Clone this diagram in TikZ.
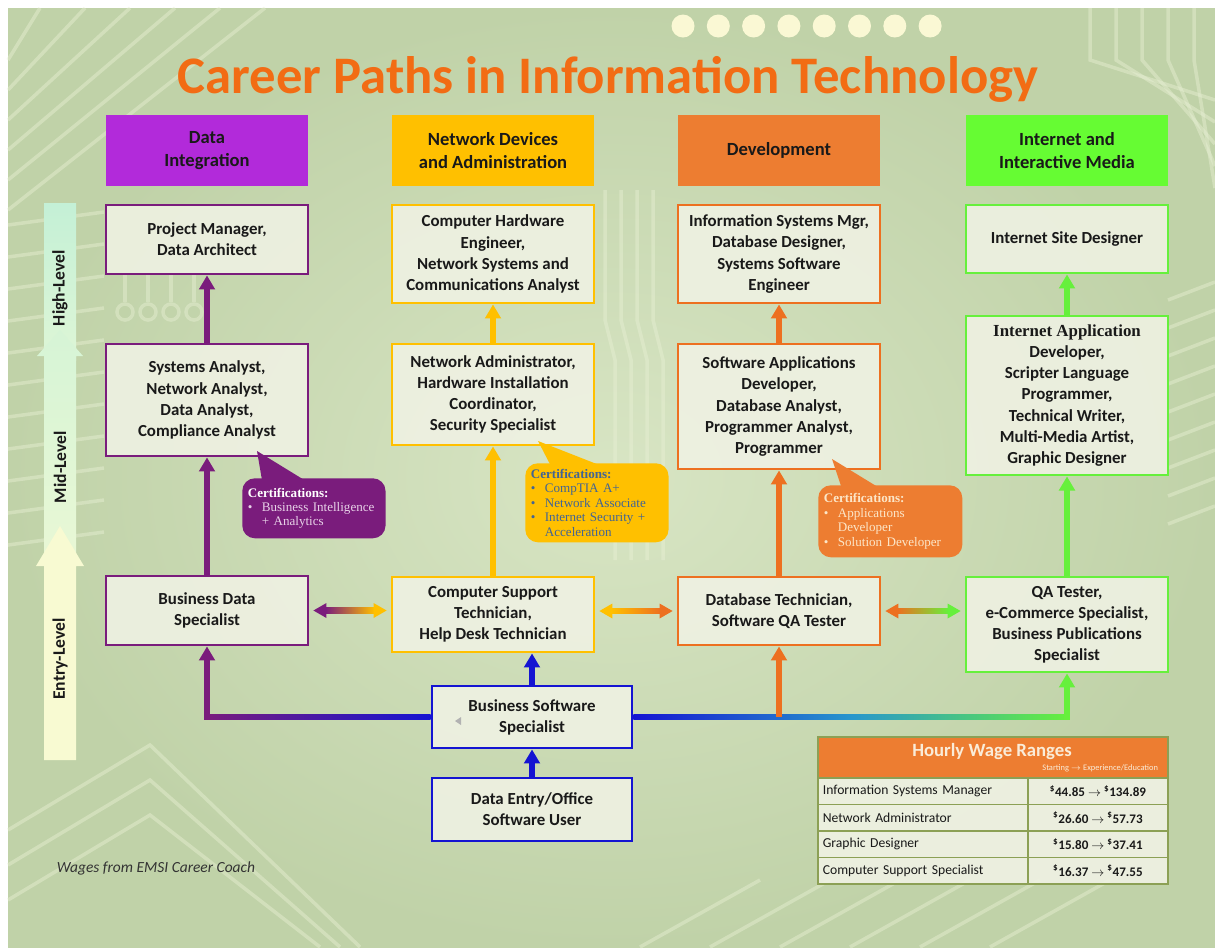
\documentclass[tikz,border=0pt]{standalone}
\usepackage{fontspec}
\setmainfont{Carlito}
\newfontfamily\certfont{Liberation Serif}
\usepackage{tikz}
\usetikzlibrary{arrows.meta, positioning, calc}

\definecolor{bgsage}{RGB}{192,210,168}
\definecolor{bglight}{RGB}{216,229,196}
\definecolor{tracec}{RGB}{232,240,212}
\definecolor{purp}{RGB}{122,28,124}
\definecolor{purphead}{RGB}{178,42,218}
\definecolor{purpitem}{RGB}{232,210,232}
\definecolor{yel}{RGB}{255,192,0}
\definecolor{orng}{RGB}{237,112,32}
\definecolor{orhead}{RGB}{237,125,49}
\definecolor{oritem}{RGB}{252,230,200}
\definecolor{grn}{RGB}{102,240,60}
\definecolor{grnhead}{RGB}{102,252,51}
\definecolor{bblue}{RGB}{20,20,210}
\definecolor{midteal}{RGB}{40,150,205}
\definecolor{boxfill}{RGB}{240,242,228}
\definecolor{titleor}{RGB}{242,108,20}
\definecolor{tabline}{RGB}{140,160,85}
\definecolor{certblue}{RGB}{66,100,148}
\definecolor{headtext}{RGB}{250,236,216}
\definecolor{dotc}{RGB}{250,248,212}
\definecolor{lvltop}{RGB}{196,240,214}
\definecolor{lvlmid}{RGB}{222,246,214}
\definecolor{lvlbot}{RGB}{248,250,210}

% double arrow whose shaft runs from colour #3 to colour #4
\newcommand{\duoarrow}[4]{%
    \shade[left color=#3, right color=#4] ($(#1)+(12,-2.6)$) rectangle ($(#2)+(-12,2.6)$);
    \fill[#3] (#1) -- ++(13,-7.5) -- ++(0,15) -- cycle;
    \fill[#4] (#2) -- ++(-13,-7.5) -- ++(0,15) -- cycle;
}

\begin{document}
\begin{tikzpicture}[
    x=0.025cm, y=-0.025cm,
    every node/.style={font=\fontsize{12}{15}\selectfont\bfseries, text=black!90},
    job/.style={draw, line width=2pt, fill=boxfill, fill opacity=0.88, text opacity=1, draw opacity=1,
        align=center, minimum width=5.05cm, inner sep=2pt},
    jobdata/.style={job, draw=purp},
    jobnet/.style={job, draw=yel},
    jobdev/.style={job, draw=orng},
    jobweb/.style={job, draw=grn},
    jobbase/.style={job, draw=bblue, minimum width=5cm},
    header/.style={minimum width=5.05cm, minimum height=1.775cm, align=center,
        font=\fontsize{13.2}{16.5}\selectfont\bfseries},
    level/.style={rotate=90, font=\fontsize{12.5}{14}\selectfont\bfseries},
    cert/.style={rounded corners=9pt, align=left, anchor=north west, inner xsep=0.14cm,
        text width=3.3cm, font=\certfont\fontsize{9.3}{10.3}\selectfont},
    uparrow/.style={line width=3.8pt, -{Triangle[length=10pt, width=11pt]}},
    trace/.style={draw=tracec, line width=2.5pt, opacity=0.45},
    wagecell/.style={draw=tabline, line width=1.2pt, fill=boxfill, fill opacity=0.9, text opacity=1,
        draw opacity=1, minimum height=0.6625cm, anchor=north west, font=\fontsize{9.7}{11}\selectfont}
]

\useasboundingbox (0,0) rectangle (1215,949);
\fill[white] (0,0) rectangle (1215,949);
\shade[inner color=bglight, outer color=bgsage] (8,8) rectangle (1215,947);

% circuit traces in the background
\foreach \k in {0,...,5}
    \draw[trace] (8,{60+\k*30}) -- ({40+\k*45},8);
\foreach \k in {0,...,10}
    \draw[trace] (8,{225+\k*32}) -- (104,{212+\k*32});
\foreach \k in {0,...,8}
    \draw[trace] (1168,{300+\k*28}) -- (1215,{282+\k*28});
\foreach \k in {0,...,4}
    \draw[trace] ({1090+\k*26},8) -- ({1090+\k*26},60) -- (1215,{100+\k*22});
\foreach \k in {0,...,3}
    \draw[trace] ({605+\k*16},190) -- ({605+\k*16},320) -- ({615+\k*16},360) -- ({615+\k*16},560);
\foreach \x in {125,148,171,194} {
    \draw[trace] (\x,274) -- (\x,302);
    \draw[trace, fill=bgsage] (\x,312) circle (0.2cm);
}
\foreach \k in {0,1,2}
    \draw[trace] (8,{830+\k*35}) -- (150,{745+\k*35}) -- ({360-\k*20},947);
\foreach \k in {0,...,5}
    \draw[trace] ({640+\k*70},947) -- ({760+\k*70},880);

% dots and title
\foreach \i in {0,...,7}
    \fill[dotc] ({683+\i*35.3},26) circle (0.2875cm);
\node[anchor=base, text=titleor, font=\fontsize{37.5}{40}\selectfont\bfseries]
    (title) at (608,93) {Career Paths in Information Technology};

% level bar
\shade[top color=lvltop, bottom color=lvlmid] (44,203) rectangle (76,360);
\shade[top color=lvlmid!70!lvltop, bottom color=lvlmid!60!lvlbot]
    (44,560) -- (44,356) -- (37,356) -- (60,330) -- (83,356) -- (76,356) -- (76,560) -- cycle;
\fill[lvlbot] (44,760) -- (44,566) -- (36,566) -- (60,526) -- (84,566) -- (76,566) -- (76,760) -- cycle;
\node[level] (lvhigh) at (60,288) {High-Level};
\node[level] (lvmid) at (60,467) {Mid-Level};
\node[level] (lventry) at (60,659) {Entry-Level};

% column headers
\node[header, fill=purphead] (hdata) at (207,150.5) {Data\\Integration};
\node[header, fill=yel] (hnet) at (493,150.5) {Network Devices\\and Administration};
\node[header, fill=orhead] (hdev) at (779,150.5) {Development};
\node[header, fill=grnhead] (hweb) at (1067,150.5) {Internet and\\Interactive Media};

% Data Integration
\node[jobdata, minimum height=1.725cm] (pm) at (207,239.5) {Project Manager,\\Data Architect};
\node[jobdata, minimum height=2.8cm] (sa) at (207,400) {Systems Analyst,\\Network Analyst,\\Data Analyst,\\Compliance Analyst};
\node[jobdata, minimum height=1.725cm] (bds) at (207,610.5) {Business Data\\Specialist};

% Network Devices and Administration
\node[jobnet, minimum height=2.45cm] (che) at (493,254) {Computer Hardware\\Engineer,\\Network Systems and\\Communications Analyst};
\node[jobnet, minimum height=2.525cm] (na) at (493,394.5) {Network Administrator,\\Hardware Installation\\Coordinator,\\Security Specialist};
\node[jobnet, minimum height=1.875cm] (cst) at (493,614.5) {Computer Support\\Technician,\\Help Desk Technician};

% Development
\node[jobdev, minimum height=2.45cm] (ism) at (779,254) {Information Systems Mgr,\\Database Designer,\\Systems Software\\Engineer};
\node[jobdev, minimum height=3.125cm] (sad) at (779,406.5) {Software Applications\\Developer,\\Database Analyst,\\Programmer Analyst,\\Programmer};
\node[jobdev, minimum height=1.7cm] (dbt) at (779,611) {Database Technician,\\Software QA Tester};

% Internet and Interactive Media
\node[jobweb, minimum height=1.7cm] (isd) at (1067,239) {Internet Site Designer};
\node[jobweb, minimum height=3.975cm] (iad) at (1067,395.5) {{\certfont\bfseries Internet Application}\\Developer,\\Scripter Language\\Programmer,\\Technical Writer,\\Multi-Media Artist,\\Graphic Designer};
\node[jobweb, minimum height=2.375cm] (qa) at (1067,624.5) {QA Tester,\\e-Commerce Specialist,\\Business Publications\\Specialist};

% base jobs
\node[jobbase, minimum height=1.55cm] (bss) at (532,717) {Business Software\\Specialist};
\node[jobbase, minimum height=1.575cm] (deo) at (532,809.5) {Data Entry/Office\\Software User};
\fill[gray!60] (455,721) -- (461,717) -- (461,725) -- cycle;

% steps up each column
\draw[uparrow, purp] (sa.north) -- (pm.south);
\draw[uparrow, purp] (bds.north) -- (sa.south);
\draw[uparrow, yel] (na.north) -- (che.south);
\draw[uparrow, yel] (cst.north) -- (na.south);
\draw[uparrow, orng] (sad.north) -- (ism.south);
\draw[uparrow, orng] (dbt.north) -- (sad.south);
\draw[uparrow, grn] (iad.north) -- (isd.south);
\draw[uparrow, grn] (qa.north) -- (iad.south);
\draw[uparrow, bblue] (deo.north) -- (bss.south);
\draw[uparrow, bblue] (bss.north) -- (bss.north |- cst.south);

% from Business Software Specialist to both sides
\shade[left color=purp, right color=bblue] ($(bds.south |- bss.west)+(-2.7,-2.7)$) rectangle ($(bss.west)+(0,2.7)$);
\draw[uparrow, purp] ($(bds.south |- bss.west)+(0,2.7)$) -- (bds.south);
\shade[left color=bblue, right color=grn, middle color=midteal] ($(bss.east)+(0,-2.7)$) rectangle ($(qa.south |- bss.east)+(2.7,2.7)$);
\draw[uparrow, grn] ($(qa.south |- bss.east)+(0,2.7)$) -- (qa.south);
\draw[uparrow, orng] (dbt.south |- bss.east) -- (dbt.south);

% moves between columns
\coordinate (hl1) at ($(bds.east)+(4,0)$);
\coordinate (hr1) at ($(cst.west |- hl1)+(-4,0)$);
\coordinate (hl2) at ($(cst.east |- dbt.west)+(4,0)$);
\coordinate (hr2) at ($(dbt.west)+(-4,0)$);
\coordinate (hl3) at ($(dbt.east)+(4,0)$);
\coordinate (hr3) at ($(qa.west |- dbt.east)+(-4,0)$);
\duoarrow{hl1}{hr1}{purp}{yel}
\duoarrow{hl2}{hr2}{yel}{orng}
\duoarrow{hl3}{hr3}{orng}{grn}

% certifications
\fill[purp] (257,451) -- (263,486) -- (314,486) -- cycle;
\node[cert, fill=purp, text=purpitem, minimum height=1.5cm] (certdata) at (242,478)
    {{\bfseries\color{white}Certifications:}\\
     \makebox[0.35cm][l]{\textbullet}Business Intelligence\\
     \hspace*{0.35cm}+ Analytics};
\fill[yel] (538,441) -- (553,470) -- (612,470) -- cycle;
\node[cert, fill=yel, text=certblue, minimum height=1.975cm] (certnet) at (525,463)
    {{\bfseries Certifications:}\\
     \makebox[0.35cm][l]{\textbullet}CompTIA A+\\
     \makebox[0.35cm][l]{\textbullet}Network Associate\\
     \makebox[0.35cm][l]{\textbullet}Internet Security +\\
     \hspace*{0.35cm}Acceleration};
\fill[orhead] (832,459) -- (843,492) -- (886,492) -- cycle;
\node[cert, fill=orhead, text=oritem, minimum height=1.8cm, text width=3.32cm] (certdev) at (818,485)
    {{\bfseries Certifications:}\\
     \makebox[0.35cm][l]{\textbullet}Applications\\
     \hspace*{0.35cm}Developer\\
     \makebox[0.35cm][l]{\textbullet}Solution Developer};

% wage table
\node[draw=tabline, line width=1.2pt, fill=orhead, minimum width=8.75cm, minimum height=1.025cm, anchor=north west] (wagehead) at (817,736) {};
\node[text=headtext, font=\fontsize{13.3}{15}\selectfont\bfseries] (wagetitle) at (992,752) {Hourly Wage Ranges};
\node[anchor=east, text=headtext, font=\fontsize{6}{7}\selectfont] (wagesub) at (1163,768) {Starting $\rightarrow$ Experience/Education};
\foreach \job/\lo/\hi [count=\r from 0] in {Information Systems Manager/44.85/134.89,
        Network Administrator/26.60/57.73, Graphic Designer/15.80/37.41,
        Computer Support Specialist/16.37/47.55} {
    \node[wagecell, minimum width=5.25cm, text width=5cm, align=left] (wjob\r) at (817,{777+\r*26.5}) {\job};
    \node[wagecell, minimum width=3.5cm, font=\fontsize{9.3}{11}\selectfont\bfseries] (wval\r) at (1027,{777+\r*26.5})
        {\textsuperscript{\$}\lo\ $\rightarrow$ \textsuperscript{\$}\hi};
}

\node[anchor=west, font=\itshape\fontsize{11}{13}\selectfont, text=black!80] (source) at (52,868) {Wages from EMSI Career Coach};

\end{tikzpicture}
\end{document}
